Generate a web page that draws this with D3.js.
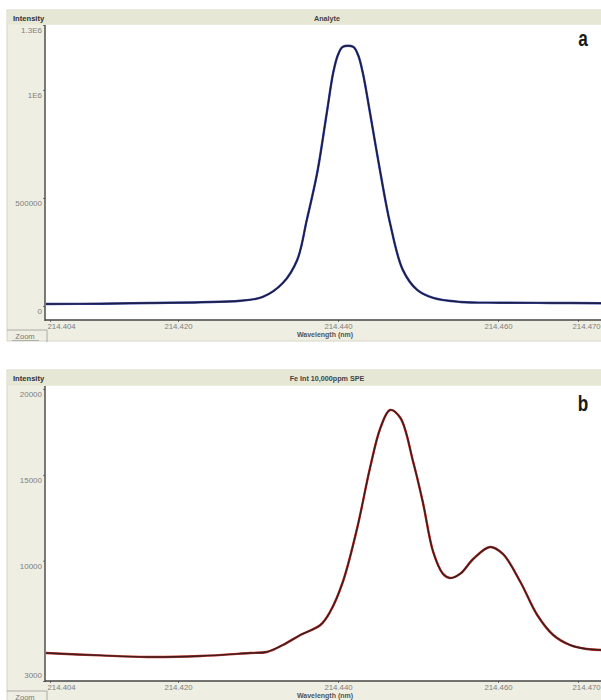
<!DOCTYPE html>
<html>
<head>
<meta charset="utf-8">
<script src="https://cdn.jsdelivr.net/npm/d3@7"></script>
<style>
  html, body { margin: 0; padding: 0; background: #ffffff; }
  svg { display: block; }
</style>
</head>
<body>
<svg id="chart" width="601" height="700"></svg>
<script>
// ---------- data ----------
const wavelengthA = [214.4035, 214.4103, 214.4165, 214.4228, 214.4278, 214.4306, 214.4331, 214.4349,
  214.4361, 214.4374, 214.4386, 214.4394, 214.4400, 214.4406, 214.4419, 214.4425, 214.4431, 214.4440,
  214.4453, 214.4465, 214.4481, 214.4499, 214.4519, 214.4553, 214.4603, 214.4665, 214.4730];
const intensityA = [9300, 10200, 13900, 17100, 24000, 41700, 106000, 213000,
  398000, 616000, 894000, 1079000, 1162000, 1199000, 1199000, 1162000, 1079000, 894000,
  616000, 384000, 167000, 74000, 37000, 18500, 15000, 14000, 12500];

const wavelengthB = [214.4035, 214.4103, 214.4161, 214.4228, 214.4290, 214.4311, 214.4331, 214.4353,
  214.4378, 214.4390, 214.4406, 214.4424, 214.4440, 214.4453, 214.4465, 214.4478, 214.4494, 214.4506,
  214.4519, 214.4531, 214.4540, 214.4553, 214.4569, 214.4590, 214.4606, 214.4628, 214.4649, 214.4669,
  214.4690, 214.4711, 214.4730];
const intensityB = [4630, 4490, 4400, 4455, 4630, 4690, 5095, 5678,
  6260, 7016, 8762, 11906, 15398, 17727, 18775, 18309, 15747, 13419,
  10509, 9250, 8995, 9250, 10100, 10800, 10400, 8762, 6842, 5678,
  5095, 4863, 4804];

const xTickValues = [214.404, 214.420, 214.440, 214.460, 214.470];
const xTickLabels = ["214.404", "214.420", "214.440", "214.460", "214.470"];
const yTickValuesA = [0, 500000, 1000000, 1300000];
const yTickLabelsA = ["0", "500000", "1E6", "1.3E6"];
const yTickValuesB = [3000, 10000, 15000, 20000];
const yTickLabelsB = ["3000", "10000", "15000", "20000"];
const titles = ["Analyte", "Fe Int 10,000ppm SPE"];
const panelLetters = ["a", "b"];

// ---------- drawing ----------
const svg = d3.select("#chart");
const FONT = "Liberation Sans, Arial, sans-serif";

function drawPanel(cfg) {
  const g = svg.append("g");
  const L = 45, R = 602;
  // frame
  g.append("rect").attr("x", 7).attr("y", cfg.frameTop).attr("width", 640).attr("height", cfg.frameBottom - cfg.frameTop)
    .attr("fill", "#eeeee3").attr("stroke", "#d6d6c6").attr("stroke-width", 1);
  g.append("rect").attr("x", 7.5).attr("y", cfg.frameTop + 0.5).attr("width", 640).attr("height", cfg.plotTop - cfg.frameTop - 1)
    .attr("fill", "#e7e7d5");
  // plot area
  g.append("rect").attr("x", L).attr("y", cfg.plotTop).attr("width", R - L).attr("height", cfg.plotBottom - cfg.plotTop)
    .attr("fill", "#ffffff");

  const x = d3.scaleLinear().domain([214.4035, 214.4730]).range([46, R]);
  const y = d3.scaleLinear().domain(cfg.yDomain).range([cfg.plotBottom, cfg.plotTop]);

  // line
  const line = d3.line().x((d, i) => x(cfg.wl[i])).y(d => y(d)).curve(d3.curveCatmullRom.alpha(0.5));
  const clipId = "clip" + cfg.idx;
  g.append("clipPath").attr("id", clipId).append("rect")
    .attr("x", L).attr("y", cfg.plotTop).attr("width", R - L).attr("height", cfg.plotBottom - cfg.plotTop);
  const lg = g.append("g").attr("clip-path", `url(#${clipId})`);
  lg.append("path").datum(cfg.val).attr("d", line).attr("fill", "none")
    .attr("stroke", cfg.under).attr("stroke-width", 2.4).attr("stroke-linejoin", "round");
  lg.append("path").datum(cfg.val).attr("d", line).attr("fill", "none")
    .attr("stroke", cfg.over).attr("stroke-width", 1.4).attr("stroke-linejoin", "round");

  // y axis
  const yAxis = d3.axisLeft(y).tickValues(cfg.yTicks).tickSize(2).tickPadding(1)
    .tickFormat((d, i) => cfg.yLabels[i]);
  const ya = g.append("g").attr("transform", `translate(${L},0)`).call(yAxis);
  ya.select(".domain").remove();
  ya.selectAll(".tick line").attr("stroke", "#777");
  ya.selectAll(".tick text").attr("font-family", FONT).attr("font-size", 8)
    .attr("fill", "#808080").attr("dy", (d, i) => (cfg.bottomLabelUp && i === 0) ? "-0.4em" : "0.95em");

  // x axis
  const xAxis = d3.axisBottom(x).tickValues(xTickValues).tickSize(2).tickPadding(1)
    .tickFormat((d, i) => xTickLabels[i]);
  const xa = g.append("g").attr("transform", `translate(0,${cfg.plotBottom})`).call(xAxis);
  xa.select(".domain").remove();
  xa.selectAll(".tick line").attr("stroke", "#777");
  xa.selectAll(".tick text").attr("font-family", FONT).attr("font-size", 7.8)
    .attr("fill", "#808080")
    .attr("text-anchor", (d, i) => (i === 0 || i === xTickValues.length - 1) ? "start" : "middle")
    .attr("dx", (d, i) => i === 0 ? -3 : (i === xTickValues.length - 1 ? -6 : 0));

  // axis lines
  g.append("line").attr("x1", L).attr("x2", L).attr("y1", cfg.plotTop).attr("y2", cfg.plotBottom + 1)
    .attr("stroke", "#444").attr("stroke-width", 1.4);
  g.append("line").attr("x1", L).attr("x2", R).attr("y1", cfg.plotBottom).attr("y2", cfg.plotBottom)
    .attr("stroke", "#444").attr("stroke-width", 1.4);

  // texts
  g.append("text").attr("x", 13).attr("y", cfg.frameTop + 10.5).text("Intensity")
    .attr("font-family", FONT).attr("font-size", 7.6).attr("font-weight", "bold").attr("fill", "#333");
  g.append("text").attr("x", 327).attr("y", cfg.frameTop + 11).attr("text-anchor", "middle").text(cfg.title)
    .attr("font-family", FONT).attr("font-size", 7.2).attr("font-weight", "bold").attr("fill", "#444");
  g.append("text").attr("x", 325).attr("y", cfg.plotBottom + 17).attr("text-anchor", "middle").text("Wavelength (nm)")
    .attr("font-family", FONT).attr("font-size", 7).attr("font-weight", "bold").attr("fill", "#555");
  g.append("text").attr("transform", `translate(583,${cfg.letterY}) scale(0.78,1)`).attr("text-anchor", "middle")
    .text(cfg.letter)
    .attr("font-family", FONT).attr("font-size", 22)
    .attr("font-weight", "bold").attr("fill", "#1a1a1a");

  // Zoom tab
  g.append("path").attr("d", `M7,${cfg.plotBottom + 10} H47 V${cfg.plotBottom + 22}`)
    .attr("fill", "none").attr("stroke", "#999").attr("stroke-width", 0.8);
  g.append("text").attr("x", 25).attr("y", cfg.plotBottom + 18.5).attr("text-anchor", "middle").text("Zoom")
    .attr("font-family", FONT).attr("font-size", 7.6).attr("fill", "#777");
  g.append("line").attr("x1", 12).attr("x2", 39).attr("y1", cfg.plotBottom + 20.5).attr("y2", cfg.plotBottom + 20.5)
    .attr("stroke", "#999").attr("stroke-width", 0.7);
}

drawPanel({
  idx: 0, frameTop: 10, frameBottom: 341, plotTop: 25, plotBottom: 320,
  yDomain: [-65000, 1300000], yTicks: yTickValuesA, yLabels: yTickLabelsA,
  wl: wavelengthA, val: intensityA, under: "#3a4aa8", over: "#1c1c40",
  title: titles[0], letter: panelLetters[0], letterY: 46, bottomLabelUp: false
});
drawPanel({
  idx: 1, frameTop: 370, frameBottom: 702, plotTop: 386, plotBottom: 681,
  yDomain: [3000, 20170], yTicks: yTickValuesB, yLabels: yTickLabelsB,
  wl: wavelengthB, val: intensityB, under: "#c0302a", over: "#3a1e1e",
  title: titles[1], letter: panelLetters[1], letterY: 411, bottomLabelUp: true
});
</script>
</body>
</html>
